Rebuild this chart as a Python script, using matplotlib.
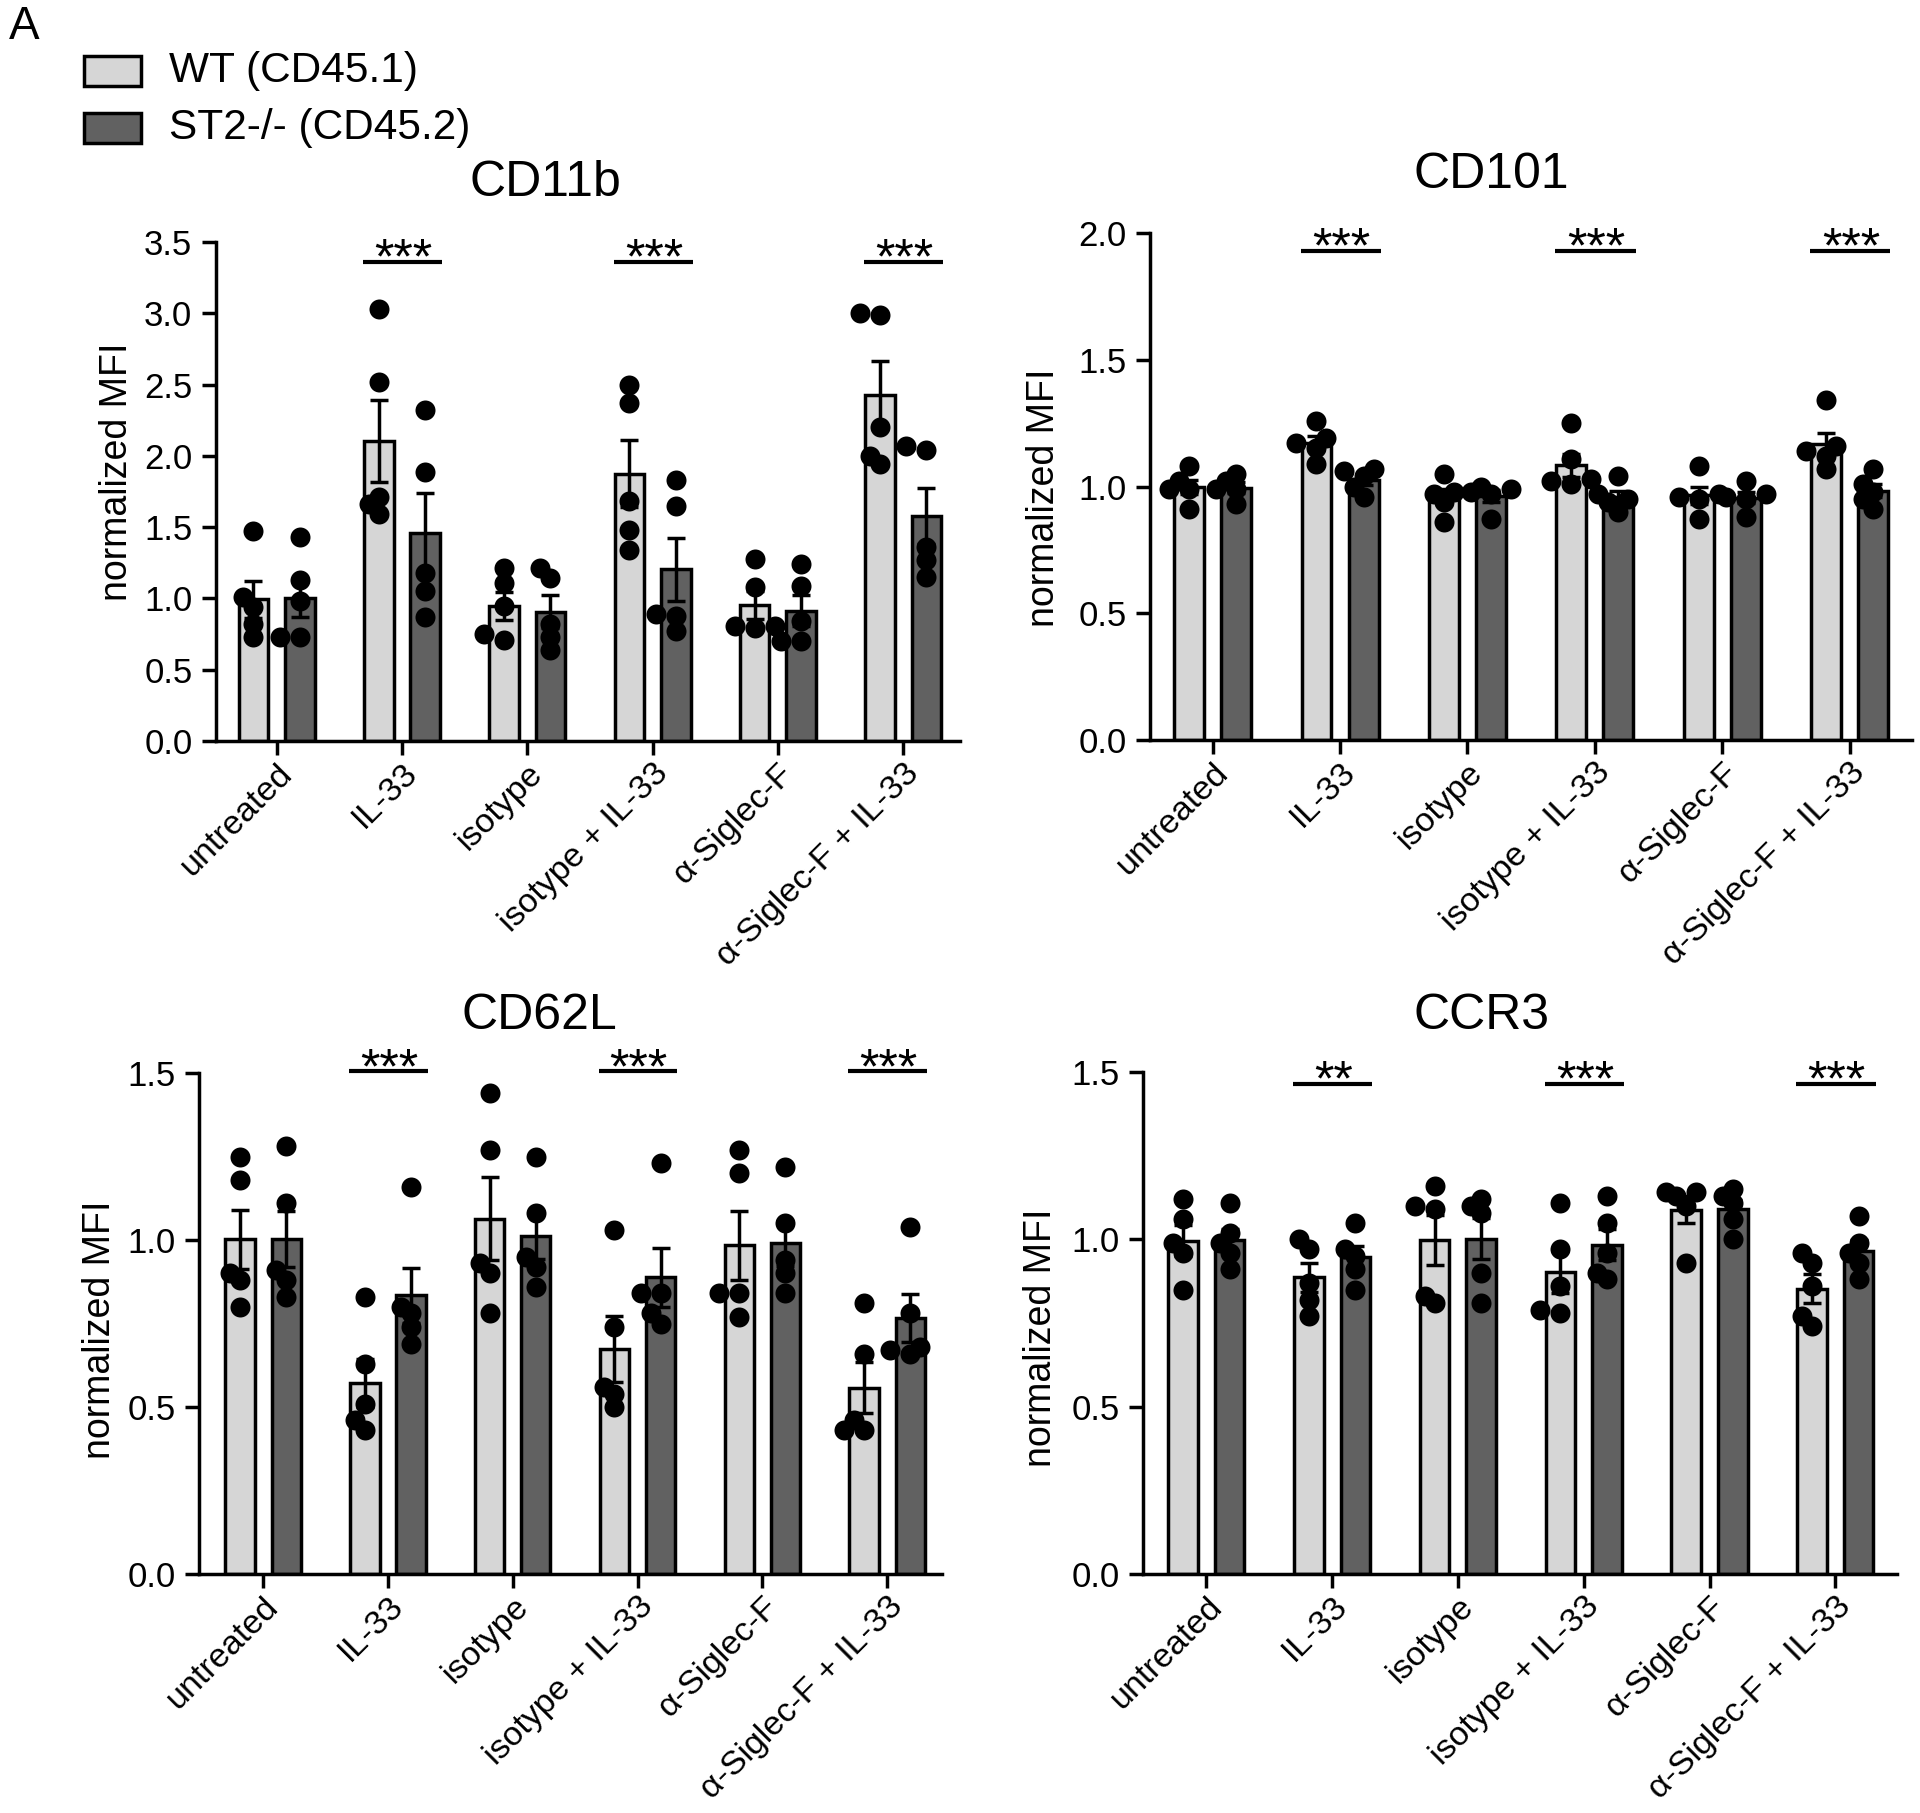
import numpy as np
import matplotlib
matplotlib.use('Agg')
import matplotlib.pyplot as plt
from matplotlib.patches import Rectangle
from matplotlib.ticker import FormatStrFormatter

plt.rcParams['font.family'] = ['Liberation Sans', 'DejaVu Sans']

groups = ['untreated', 'IL-33', 'isotype', 'isotype + IL-33',
          'α-Siglec-F', 'α-Siglec-F + IL-33']
series_names = ['WT (CD45.1)', 'ST2-/- (CD45.2)']

# individual mice, 5 per group
cd11b_wt = [[1.01, 1.47, 0.94, 0.82, 0.73],
            [3.03, 2.52, 1.71, 1.59, 1.66],
            [1.21, 1.11, 0.95, 0.75, 0.71],
            [2.50, 2.37, 1.68, 1.48, 1.34],
            [1.28, 1.08, 0.81, 0.79, 0.81],
            [2.99, 3.00, 2.20, 2.00, 1.94]]
cd11b_ko = [[1.43, 1.13, 0.98, 0.73, 0.73],
            [2.32, 1.89, 1.18, 1.05, 0.87],
            [1.21, 1.14, 0.82, 0.73, 0.64],
            [1.83, 1.65, 0.89, 0.88, 0.77],
            [1.24, 1.09, 0.84, 0.70, 0.70],
            [2.04, 2.07, 1.36, 1.27, 1.15]]

cd101_wt = [[1.08, 1.02, 0.99, 0.99, 0.91],
            [1.26, 1.17, 1.19, 1.15, 1.09],
            [1.05, 0.98, 0.97, 0.94, 0.86],
            [1.25, 1.11, 1.03, 1.02, 1.01],
            [1.08, 0.97, 0.96, 0.95, 0.87],
            [1.34, 1.16, 1.14, 1.12, 1.07]]
cd101_ko = [[1.05, 1.02, 0.99, 0.99, 0.93],
            [1.07, 1.06, 1.04, 1.00, 0.96],
            [1.00, 0.99, 0.98, 0.97, 0.87],
            [1.04, 0.97, 0.95, 0.94, 0.90],
            [1.02, 0.97, 0.96, 0.95, 0.88],
            [1.07, 1.01, 0.98, 0.95, 0.91]]

cd62l_wt = [[1.25, 1.18, 0.90, 0.88, 0.80],
            [0.83, 0.63, 0.51, 0.46, 0.43],
            [1.44, 1.27, 0.93, 0.90, 0.78],
            [1.03, 0.74, 0.56, 0.54, 0.50],
            [1.27, 1.20, 0.84, 0.84, 0.77],
            [0.81, 0.66, 0.46, 0.43, 0.43]]
cd62l_ko = [[1.28, 1.11, 0.91, 0.88, 0.83],
            [1.16, 0.80, 0.78, 0.74, 0.69],
            [1.25, 1.08, 0.95, 0.92, 0.86],
            [1.23, 0.84, 0.84, 0.78, 0.75],
            [1.22, 1.05, 0.94, 0.90, 0.84],
            [1.04, 0.78, 0.68, 0.67, 0.66]]

ccr3_wt = [[1.12, 1.06, 0.99, 0.96, 0.85],
           [1.00, 0.97, 0.87, 0.82, 0.77],
           [1.16, 1.10, 1.09, 0.83, 0.81],
           [1.11, 0.97, 0.86, 0.78, 0.79],
           [1.14, 1.14, 1.13, 1.10, 0.93],
           [0.93, 0.96, 0.86, 0.77, 0.74]]
ccr3_ko = [[1.11, 1.02, 0.99, 0.96, 0.91],
           [1.05, 0.97, 0.95, 0.91, 0.85],
           [1.12, 1.10, 1.08, 0.90, 0.81],
           [1.13, 1.05, 0.96, 0.90, 0.88],
           [1.15, 1.13, 1.11, 1.06, 1.00],
           [1.07, 0.99, 0.96, 0.93, 0.88]]

sig_cd11b = ['', '***', '', '***', '', '***']
sig_cd101 = ['', '***', '', '***', '', '***']
sig_cd62l = ['', '***', '', '***', '', '***']
sig_ccr3 = ['', '**', '', '***', '', '***']

# layout (pixels in a 1920x1813 canvas)
W, H = 1920, 1813
panels = [
    # title, wt, ko, sig, ymax, left, right, y0, ytop, xlim, title xy, ylabel xy, sig line y
    ('CD11b', cd11b_wt, cd11b_ko, sig_cd11b, 3.5, 216, 960, 741, 242,
     (-0.484, 5.453), (545, 183), (117, 472), 3.36),
    ('CD101', cd101_wt, cd101_ko, sig_cd101, 2.0, 1150, 1912, 740, 233,
     (-0.492, 5.49), (1491, 175), (1044, 498), 1.93),
    ('CD62L', cd62l_wt, cd62l_ko, sig_cd62l, 1.5, 199, 942, 1574, 1073,
     (-0.514, 5.44), (539, 1016), (100, 1330), 1.505),
    ('CCR3', ccr3_wt, ccr3_ko, sig_ccr3, 1.5, 1143, 1897, 1574, 1072,
     (-0.503, 5.49), (1482, 1016), (1041, 1338), 1.464),
]

c_wt = '#d6d6d6'
c_ko = '#616161'
lw = 2.5
bar_w = 0.235
off = 0.185
dot_ms = 14.4


def swarm(ax, center, vals, step_px=10.0, min_d=12.0):
    pts = ax.transData.transform([(center, v) for v in vals])
    ys = pts[:, 1]
    x_scale = ax.transData.transform([(1, 0)])[0, 0] - ax.transData.transform([(0, 0)])[0, 0]
    placed = []
    offs = np.zeros(len(vals))
    for i in np.argsort(ys):
        best, best_d = 0.0, -1.0
        for k in [0, -1, 1, -2, 2]:
            dx = k * step_px
            d = min([np.hypot(dx - px, ys[i] - py) for px, py in placed] or [99.0])
            if d >= min_d:
                best = dx
                break
            if d > best_d:
                best, best_d = dx, d
        offs[i] = best
        placed.append((best, ys[i]))
    return center + offs / x_scale


fig = plt.figure(figsize=(W / 100, H / 100), dpi=100)

for (title, wt, ko, sig, ymax, left, right, y0, ytop, xlim,
     title_xy, ylab_xy, sig_y) in panels:
    ax = fig.add_axes([left / W, 1 - y0 / H, (right - left) / W, (y0 - ytop) / H])
    ax.set_xlim(*xlim)
    ax.set_ylim(0, ymax)
    x = np.arange(len(groups))

    for data, sign, col in [(wt, -1, c_wt), (ko, 1, c_ko)]:
        arr = np.array(data)
        means = arr.mean(axis=1)
        sems = arr.std(axis=1, ddof=1) / np.sqrt(arr.shape[1])
        xs = x + sign * off
        ax.bar(xs, means, width=bar_w, color=col, edgecolor='black',
               linewidth=lw, zorder=2)
        ax.errorbar(xs, means, yerr=sems, fmt='none', ecolor='black',
                    elinewidth=lw, capsize=6.5, capthick=lw, zorder=3)
        for xi, vals in zip(xs, data):
            ax.plot(swarm(ax, xi, vals), vals, 'o', color='black',
                    markersize=dot_ms, markeredgewidth=0, zorder=4,
                    clip_on=False)

    for xi, s in zip(x, sig):
        if s:
            ax.plot([xi - 0.31, xi + 0.32], [sig_y, sig_y], color='black',
                    linewidth=lw + 0.5, clip_on=False, solid_capstyle='butt')
            ax.annotate(s, xy=(xi + 0.01, sig_y), xytext=(0, -8.5),
                        textcoords='offset points', ha='center',
                        va='baseline', fontsize=36, annotation_clip=False)

    for sp in ['top', 'right']:
        ax.spines[sp].set_visible(False)
    for sp in ['left', 'bottom']:
        ax.spines[sp].set_linewidth(lw)
    ax.set_yticks(np.arange(0, ymax + 0.01, 0.5))
    ax.yaxis.set_major_formatter(FormatStrFormatter('%.1f'))
    ax.set_xticks(x)
    ax.set_xticklabels(groups, rotation=45, ha='right', rotation_mode='anchor',
                       fontsize=24.5)
    ax.tick_params(axis='both', length=10, width=lw)
    ax.tick_params(axis='x', pad=2)
    ax.tick_params(axis='y', labelsize=25, pad=7)

    fig.text(title_xy[0] / W, 1 - title_xy[1] / H, title, ha='center',
             va='center', fontsize=36)
    fig.text(ylab_xy[0] / W, 1 - ylab_xy[1] / H, 'normalized MFI',
             rotation=90, ha='center', va='center', fontsize=27)

# panel letter and legend
fig.text(9 / W, 1 - 27 / H, 'A', ha='left', va='center', fontsize=33)
for i, (name, col) in enumerate(zip(series_names, [c_wt, c_ko])):
    yc = 71 + i * 57
    fig.patches.append(Rectangle((84 / W, 1 - (yc + 15) / H), 57 / W, 30 / H,
                                 facecolor=col, edgecolor='black', linewidth=lw,
                                 transform=fig.transFigure))
    fig.text(169 / W, 1 - yc / H, name, ha='left', va='center', fontsize=30.5)

fig.savefig('out.png', dpi=100)
